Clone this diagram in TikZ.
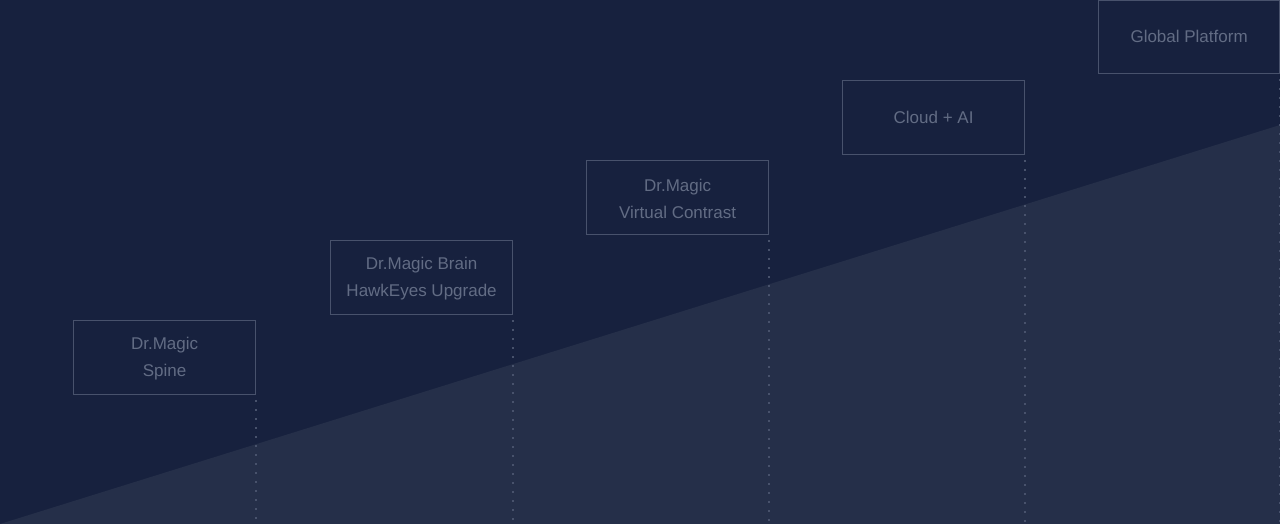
\documentclass[tikz,border=0pt]{standalone}
\usepackage{fontspec}
\setmainfont{Liberation Sans}
\definecolor{bgc}{RGB}{23,33,62}
\definecolor{lowc}{RGB}{37,47,73}
\definecolor{edgec}{RGB}{72,82,108}
\definecolor{txtc}{RGB}{98,108,132}
\begin{document}
\begin{tikzpicture}[x=1pt,y=-1pt,
  stage/.style={draw=edgec,line width=1.2pt,minimum width=182pt,minimum height=74pt,inner sep=0pt,anchor=north west},
  lbl/.style={text=txtc,font=\fontsize{17}{27}\selectfont,align=center,yshift=-1.5pt},
  lblone/.style={lbl,yshift=2pt},
  guide/.style={edgec,line width=1.5pt,dash pattern=on 2pt off 7pt}]
\fill[bgc] (0,0) rectangle (1280,524);
\useasboundingbox (0,0) rectangle (1280,524);
\fill[lowc] (0,524) -- (1280,125) -- (1280,524) -- cycle;
\node[stage,label={[lbl]center:Dr.Magic\\Spine}] (s1) at (73,320) {};
\node[stage,label={[lbl]center:Dr.Magic Brain\\HawkEyes Upgrade}] (s2) at (330,240) {};
\node[stage,label={[lbl]center:Dr.Magic\\Virtual Contrast}] (s3) at (586,160) {};
\node[stage,label={[lblone]center:Cloud + AI}] (s4) at (842,80) {};
\node[stage,minimum width=181pt,minimum height=73pt,label={[lblone]center:Global Platform}] (s5) at (1098,0) {};
\foreach \s in {s1,s2,s3,s4,s5}{
  \coordinate (\s b) at (\s.south east |- 0,524);
  \draw[guide] ([yshift=-5pt]\s.south east) -- (\s b);
}
\end{tikzpicture}
\end{document}
